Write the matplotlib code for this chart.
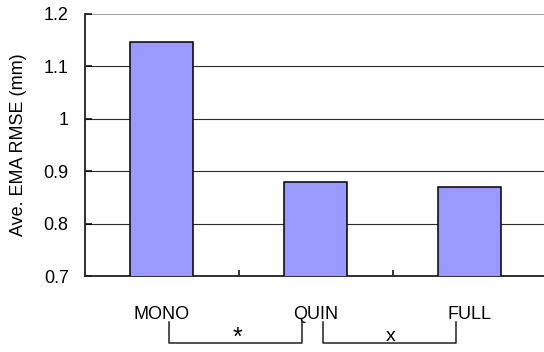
import matplotlib
matplotlib.use("Agg")
import matplotlib.pyplot as plt
import matplotlib.transforms as mtransforms

plt.rcParams['font.family'] = ['Liberation Sans', 'DejaVu Sans']

# Average EMA RMSE per model condition
categories = ["MONO", "QUIN", "FULL"]
rmse_mm = [1.147, 0.88, 0.871]
y_ticks = [0.7, 0.8, 0.9, 1.0, 1.1, 1.2]
y_tick_labels = ["0.7", "0.8", "0.9", "1", "1.1", "1.2"]

# Significance brackets between neighbouring conditions: (from, to, mark, size, baseline)
brackets = [(0, 1, "*", 18, -0.262), (1, 2, "x", 14, -0.246)]

fig = plt.figure(figsize=(5.44, 3.52), dpi=100)
ax = fig.add_axes([0.1557, 0.2145, 0.849, 0.7466])

x = list(range(len(categories)))
ax.bar(x, rmse_mm, width=0.41, color="#9999FF", edgecolor="black",
       linewidth=1.1, zorder=3)

ax.set_xlim(-0.5, len(categories) - 0.5)
ax.set_ylim(y_ticks[0], y_ticks[-1])

ax.set_yticks(y_ticks)
ax.set_yticklabels(y_tick_labels)
ax.tick_params(axis="y", direction="in", length=5, width=1.1, pad=11.5,
               labelsize=13, color="black")

ax.set_xticks(x)
ax.set_xticklabels(categories)
ax.tick_params(axis="x", which="major", length=0, pad=21, labelsize=13)
ax.set_xticks([i + 0.5 for i in x[:-1]], minor=True)
ax.tick_params(axis="x", which="minor", direction="in", length=4.3,
               width=1.1, color="black")

ax.set_ylabel("Ave. EMA RMSE (mm)", fontsize=13)
ax.yaxis.set_label_coords(-0.125, 0.5)

ax.grid(axis="y", color="#2a2a2a", linewidth=0.8, zorder=0)
ax.set_axisbelow(True)
gridlines = ax.get_ygridlines()
gridlines[-1].set_color("#a0a0a0")
gridlines[-1].set_linewidth(1.4)

for side in ("top", "right"):
    ax.spines[side].set_visible(False)
for side in ("left", "bottom"):
    ax.spines[side].set_linewidth(1.3)
    ax.spines[side].set_color("#202020")

# Brackets below the category labels
trans = mtransforms.blended_transform_factory(ax.transData, ax.transAxes)
y_top, y_bot = -0.172, -0.254
for a, b, mark, size, base in brackets:
    xa, xb = a + 0.05, b - 0.09
    ax.plot([xa, xa, xb, xb], [y_top, y_bot, y_bot, y_top], color="#202020",
            linewidth=1.1, transform=trans, clip_on=False)
    ax.text((xa + xb) / 2 + 0.01, base, mark, transform=trans,
            ha="center", va="baseline", fontsize=size)

fig.savefig("out.png", dpi=100)
